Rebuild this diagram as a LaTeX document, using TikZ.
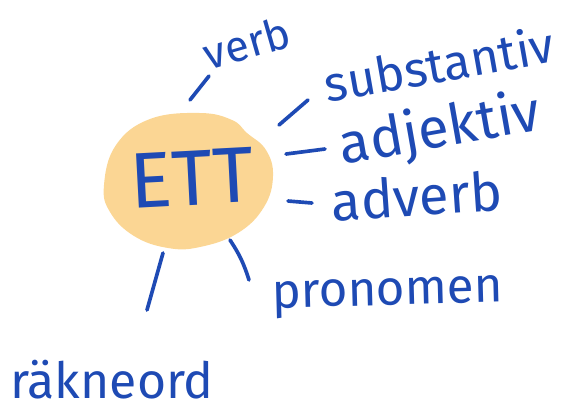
\documentclass[tikz,border=0pt]{standalone}
\usepackage{fontspec}
\newfontfamily\handfont{Fira Sans}
\definecolor{inkblue}{HTML}{1E4AB4}
\definecolor{blobfill}{HTML}{FBD694}

\begin{document}
\begin{tikzpicture}[
    x=0.025cm, y=-0.025cm,
    word/.style={text=inkblue, font=\handfont\fontsize{35}{40}\selectfont, inner sep=0pt, anchor=base},
    stroke/.style={draw=inkblue, line width=2.6pt, line cap=round}
]
\useasboundingbox (0,0) rectangle (562,410);

% Centre blob
\fill[blobfill] plot[smooth cycle, tension=0.7] coordinates {
    (104,185) (116,145) (150,119) (200,113) (232,120) (247,133)
    (266,150) (273,176) (264,207) (238,233) (200,247) (168,248)
    (134,236) (110,212)};
\node[word, font=\handfont\fontsize{56}{62}\selectfont, rotate=3] at (193,205) (ett) {ETT};

% Words
\node[word, font=\handfont\fontsize{31}{36}\selectfont, rotate=16] at (251,58) (verb) {verb};
\node[word, rotate=10] at (442,82) (subst) {substantiv};
\node[word, font=\handfont\fontsize{40}{46}\selectfont, rotate=10] at (443,147) (adj) {adjektiv};
\node[word, font=\handfont\fontsize{38.5}{44}\selectfont, rotate=4] at (418,216) (adv) {adverb};
\node[word, rotate=1.5] at (388,305) (pron) {pronomen};
\node[word, font=\handfont\fontsize{35.5}{40}\selectfont] at (112,398) (rakn) {räkneord};

% Strokes
\coordinate (verb-a) at (190,100);  \coordinate (verb-b) at (209,76);
\coordinate (subst-a) at (279,125); \coordinate (subst-b) at (308,100);
\coordinate (adj-a) at (286,154);   \coordinate (adj-b) at (325,149);
\coordinate (adv-a) at (288,201);   \coordinate (adv-b) at (312,203);
\coordinate (pron-a) at (230,240);  \coordinate (pron-b) at (249,280);
\coordinate (rakn-a) at (163,253);  \coordinate (rakn-b) at (147,310);
\draw[stroke] (verb-a) -- (verb-b);
\draw[stroke] (subst-a) -- (subst-b);
\draw[stroke] (adj-a) -- (adj-b);
\draw[stroke] (adv-a) -- (adv-b);
\draw[stroke] (pron-a) to[bend left=8] (pron-b);
\draw[stroke] (rakn-a) -- (rakn-b);

\end{tikzpicture}
\end{document}
